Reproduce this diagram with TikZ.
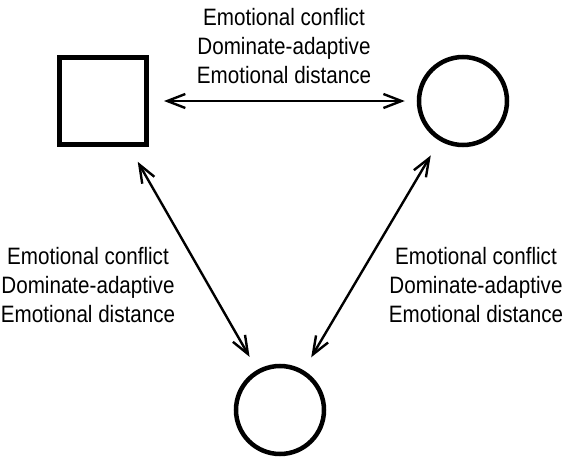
\documentclass[tikz,border=0pt]{standalone}
\usepackage{fontspec}
\setmainfont{Liberation Sans}[FakeStretch=0.87]
\usetikzlibrary{arrows.meta,positioning}

\begin{document}
\begin{tikzpicture}[
    x=1pt,y=-1pt,
    male/.style={rectangle,draw,line width=5pt,minimum size=87pt,inner sep=0pt},
    female/.style={circle,draw,line width=4.5pt,minimum size=88pt,inner sep=0pt},
    tie/.style={{Straight Barb[length=18pt,width=14pt]}-{Straight Barb[length=18pt,width=14pt]},line width=2.4pt},
    label/.style={font=\fontsize{23.7}{29}\selectfont,align=center,inner sep=0pt}
]
\useasboundingbox (0,0) rectangle (566,458);

% Personen
\node[male] (father) at (103,101) {};
\node[female] (mother) at (463,101) {};
\node[female] (child) at (280,410) {};

% Beziehungen
\draw[tie,shorten <=15pt,shorten >=12pt] (father) -- (mother);
\draw[tie,shorten <=17pt,shorten >=15pt] (father) -- (child);
\draw[tie,shorten <=17pt,shorten >=15pt] (mother) -- (child);

% Beschriftungen
\node[label] (top) at (284,46) {Emotional conflict\\Dominate-adaptive\\Emotional distance};
\node[label] (left) at (88,285) {Emotional conflict\\Dominate-adaptive\\Emotional distance};
\node[label] (right) at (476,285) {Emotional conflict\\Dominate-adaptive\\Emotional distance};

\end{tikzpicture}
\end{document}
